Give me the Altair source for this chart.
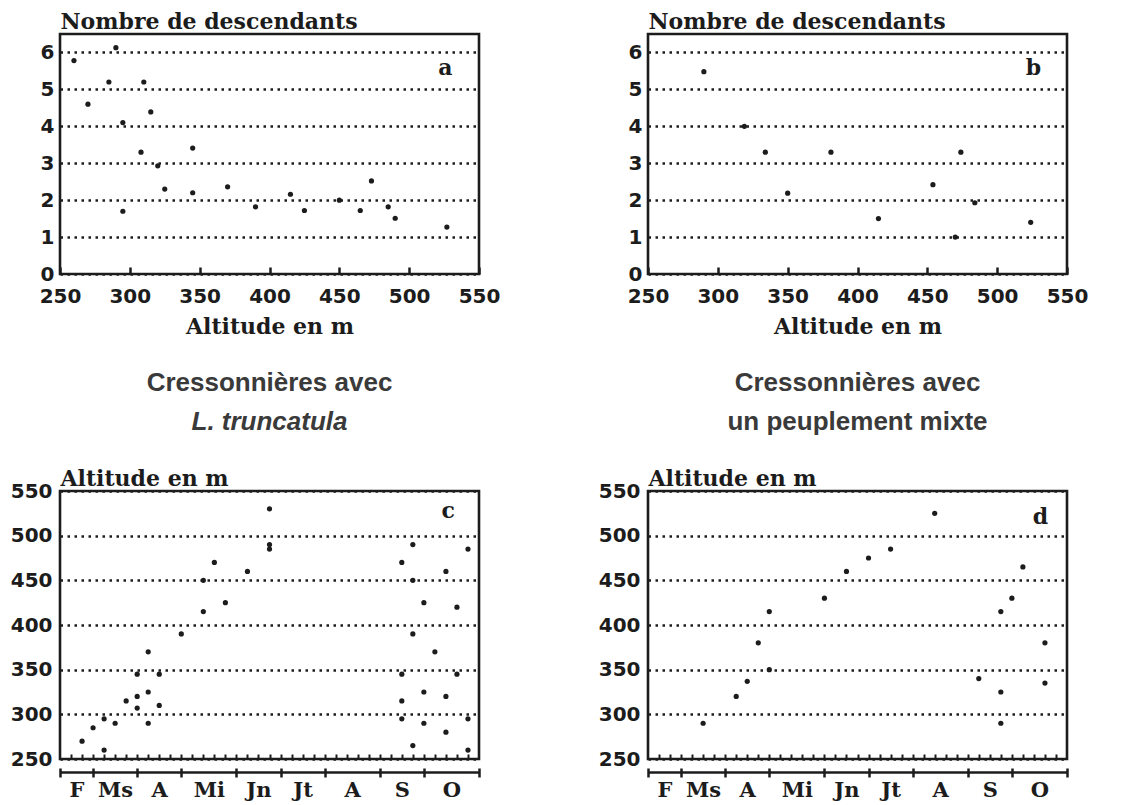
import json
import altair as alt
import pandas as pd

# ---------------- data ----------------
# panel a : Cressonnières avec L. truncatula
a_altitude = [260, 270, 285, 290, 295, 295, 308, 310, 315, 320, 325, 345, 345,
              370, 390, 415, 425, 450, 465, 473, 485, 490, 527]
a_descendants = [5.78, 4.6, 5.2, 6.13, 4.1, 1.7, 3.3, 5.2, 4.39, 2.93, 2.3, 3.41, 2.2,
                 2.36, 1.82, 2.16, 1.72, 2.0, 1.72, 2.52, 1.82, 1.51, 1.27]

# panel b : peuplement mixte
b_altitude = [290, 319, 334, 350, 381, 415, 454, 470, 474, 484, 524]
b_descendants = [5.48, 4.0, 3.3, 2.19, 3.3, 1.5, 2.42, 1.0, 3.3, 1.93, 1.4]

# panel c : week index (from mid-February) vs altitude
c_week = [2, 3, 4, 4, 5, 6, 7, 7, 7, 8, 8, 8, 9, 9, 11, 13, 13, 14, 15, 17, 19, 19, 19,
          31, 31, 31, 31, 32, 32, 32, 32, 33, 33, 33, 34, 35, 35, 35, 36, 36, 37, 37, 37]
c_altitude = [270, 285, 295, 260, 290, 315, 345, 320, 307, 370, 325, 290, 345, 310, 390,
              415, 450, 470, 425, 460, 530, 490, 485,
              470, 345, 315, 295, 490, 450, 390, 265, 425, 325, 290, 370, 460, 320, 280,
              420, 345, 485, 295, 260]

# panel d
d_week = [5, 8, 9, 10, 11, 11, 16, 18, 20, 22, 26, 30, 32, 32, 32, 33, 34, 36, 36]
d_altitude = [290, 320, 337, 380, 415, 350, 430, 460, 475, 485, 525, 340, 415, 325, 290,
              430, 465, 380, 335]

# month axis
month_names = ["F", "Ms", "A", "Mi", "Jn", "Jt", "A", "S", "O"]
month_bounds = [0, 3, 7, 11, 16, 20, 24, 29, 33, 38]
month_mid = [1.5, 5, 9, 13.5, 18, 22, 26.5, 31, 35.5]
week_ticks = list(range(1, 38))

alt_ticks_top = [250, 300, 350, 400, 450, 500, 550]
desc_ticks = [0, 1, 2, 3, 4, 5, 6]
alt_ticks_left = [250, 300, 350, 400, 450, 500, 550]

letters = ["a", "b", "c", "d"]

# ---------------- style ----------------
INK = "#1c1c1c"
GREY = "#3a3a3a"
SERIF = "DejaVu Serif"
NUM = "DejaVu Sans"
SANS = "Liberation Sans"
DOT = 27

grid_kw = dict(grid=True, gridDash=[2.5, 4.5], gridWidth=2.5, gridColor=INK, gridOpacity=1)
num_label_kw = dict(labelFont=NUM, labelFontWeight="bold", labelFontSize=20, labelColor=INK)
title_kw = dict(titleFont=SERIF, titleFontWeight="bold", titleFontSize=22, titleColor=INK)


def top_panel(altitudes, descs, letter, lx, ly, width, height):
    df = pd.DataFrame({"alt": altitudes, "n": descs})
    xs = alt.Scale(domain=[250, 550], nice=False, zero=False)
    ys = alt.Scale(domain=[0, 6.5], nice=False, zero=True)
    x_axis = alt.Axis(
        values=alt_ticks_top, orient="bottom", offset=-7, tickSize=7, tickWidth=2.5,
        tickColor=INK, domain=False, grid=False, labelPadding=12, labelFlush=False,
        labelOverlap=False, title="Altitude en m", titlePadding=10, **num_label_kw, **title_kw)
    y_axis = alt.Axis(
        values=desc_ticks, ticks=False, domain=False, labelPadding=6, labelOverlap=False,
        title="Nombre de descendants", titleAngle=0, titleAlign="left",
        titleBaseline="alphabetic", titleX=0, titleY=-6, **grid_kw, **num_label_kw, **title_kw)
    pts = alt.Chart(df).mark_circle(size=DOT, color=INK, opacity=1).encode(
        x=alt.X("alt:Q", scale=xs, axis=x_axis), y=alt.Y("n:Q", scale=ys, axis=y_axis))
    lab = alt.Chart(pd.DataFrame({"alt": [lx], "n": [ly], "t": [letter]})).mark_text(
        font=SERIF, fontWeight="bold", fontSize=22, color=INK).encode(
        x=alt.X("alt:Q", scale=xs, axis=x_axis), y=alt.Y("n:Q", scale=ys, axis=y_axis),
        text="t:N")
    return alt.layer(pts, lab).properties(width=width, height=height)


label_expr = f"{json.dumps(month_names)}[indexof({json.dumps(month_mid)}, datum.value)]"


def bottom_panel(weeks, altitudes, letter, lx, ly, width, height, subtitle, italic):
    df = pd.DataFrame({"w": weeks, "alt": altitudes})
    xs = alt.Scale(domain=[0, 38], nice=False, zero=False)
    ys = alt.Scale(domain=[250, 550], nice=False, zero=False)
    y_axis = alt.Axis(
        values=alt_ticks_left, ticks=False, domain=False, labelPadding=8, labelOverlap=False,
        title="Altitude en m", titleAngle=0, titleAlign="left", titleBaseline="alphabetic",
        titleX=0, titleY=-6, **grid_kw, **num_label_kw, **title_kw)
    y = alt.Y("alt:Q", scale=ys, axis=y_axis)
    pts = alt.Chart(df).mark_circle(size=DOT, color=INK, opacity=1).encode(
        x=alt.X("w:Q", scale=xs, axis=alt.Axis(
            values=week_ticks, orient="bottom", offset=-5, tickSize=5, tickWidth=2,
            tickColor=INK, labels=False, domain=False, grid=False, title=None)),
        y=y)
    bnd = alt.Chart(pd.DataFrame({"w": month_bounds, "alt": [250] * len(month_bounds)})).mark_point(
        opacity=0).encode(
        x=alt.X("w:Q", scale=xs, axis=alt.Axis(
            values=month_bounds, orient="bottom", offset=9, tickSize=9, tickWidth=2.5,
            tickColor=INK, labels=False, domain=False, grid=False, title=None)),
        y=y)
    mon = alt.Chart(pd.DataFrame({"w": month_mid, "alt": [250] * len(month_mid)})).mark_point(
        opacity=0).encode(
        x=alt.X("w:Q", scale=xs, axis=alt.Axis(
            values=month_mid, orient="bottom", offset=13, ticks=False, domain=True,
            domainWidth=2.5, domainColor=INK, labelPadding=7, labelExpr=label_expr,
            labelFlush=False, labelOverlap=False, grid=False, title=None,
            labelFont=SERIF, labelFontWeight="bold", labelFontSize=21, labelColor=INK)),
        y=y)
    lab = alt.Chart(pd.DataFrame({"w": [lx], "alt": [ly], "t": [letter]})).mark_text(
        font=SERIF, fontWeight="bold", fontSize=22, color=INK).encode(
        x=alt.X("w:Q", scale=xs, axis=None), y=y, text="t:N")
    title = alt.TitleParams(
        text="Cressonnières avec", subtitle=subtitle, anchor="middle", frame="group",
        font=SANS, fontSize=26, fontWeight="bold", color=GREY,
        subtitleFont=SANS, subtitleFontSize=26, subtitleFontWeight="bold",
        subtitleFontStyle="italic" if italic else "normal", subtitleColor=GREY,
        subtitlePadding=13, offset=32)
    return (alt.layer(pts, bnd, mon, lab)
            .resolve_axis(x="independent")
            .properties(width=width, height=height, title=title))


a = top_panel(a_altitude, a_descendants, letters[0], 526, 5.57, 419, 240)
b = top_panel(b_altitude, b_descendants, letters[1], 526, 5.59, 419, 240)
c = bottom_panel(c_week, c_altitude, letters[2], 35.2, 528, 419, 268, "L. truncatula", True)
d = bottom_panel(d_week, d_altitude, letters[3], 35.6, 521, 419, 268, "un peuplement mixte", False)

chart = (alt.concat(a, b, c, d, columns=2, spacing={"row": 217, "column": 169}, bounds="flush")
         .properties(padding={"left": 0, "top": 0, "right": 2, "bottom": 0})
         .configure_view(stroke=INK, strokeWidth=2.6))

chart.save("out.html", embed_options={"renderer": "svg", "actions": False})
